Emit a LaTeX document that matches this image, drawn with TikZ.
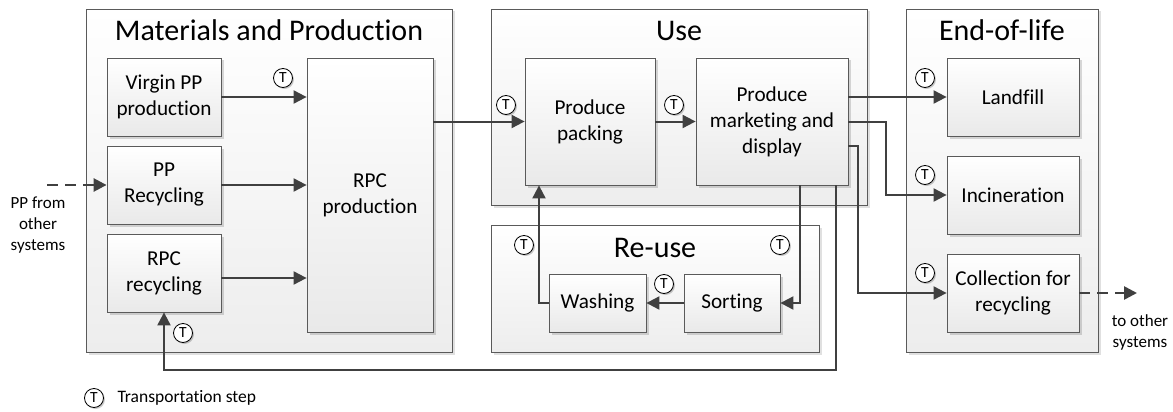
\documentclass[tikz,border=0pt]{standalone}
\usepackage{fontspec}
\setmainfont{Carlito}[Ligatures=NoCommon]
\usetikzlibrary{arrows.meta,shadows,calc}
\definecolor{linec}{HTML}{404040}
\definecolor{borderc}{HTML}{5A5A5A}
\definecolor{boxbot}{HTML}{E9E9E9}
\definecolor{grpbot}{HTML}{EDEDED}
\tikzset{
  grp/.style={draw=borderc, line width=0.8pt, top color=white, bottom color=grpbot,
    drop shadow={shadow xshift=2.5pt, shadow yshift=-2.5pt, fill=black, opacity=0.12},
    inner sep=0pt},
  box/.style={draw=borderc, line width=0.8pt, top color=white, bottom color=boxbot,
    drop shadow={shadow xshift=2.5pt, shadow yshift=-2.5pt, fill=black, opacity=0.15},
    align=center, inner sep=2pt, font=\fontsize{21.2}{26}\selectfont},
  grptitle/.style={anchor=base, font=\fontsize{30}{34}\selectfont},
  tmark/.style={circle, draw=black, line width=0.8pt, fill=white, minimum size=19pt, inner sep=0pt,
    drop shadow={shadow xshift=1.5pt, shadow yshift=-1.5pt, fill=black, opacity=0.2},
    font=\fontsize{15.5}{15.5}\selectfont},
  flow/.style={draw=linec, line width=2pt, -{Triangle[length=13pt,width=13pt]}},
  dflow/.style={flow, line width=2.6pt, dash pattern=on 11pt off 7pt},
  small/.style={align=center, font=\fontsize{17}{21}\selectfont}
}
\begin{document}
\begin{tikzpicture}[x=1pt,y=-1pt]
\useasboundingbox[fill=white] (0,0) rectangle (1173,412);
% groups
\node[grp, minimum width=366pt, minimum height=343pt] (gmat) at (269,180.5) {};
\node[grp, minimum width=376pt, minimum height=196pt] (guse) at (679,107) {};
\node[grp, minimum width=328pt, minimum height=127pt] (greu) at (655,288.5) {};
\node[grp, minimum width=192pt, minimum height=343pt] (geol) at (1002,180.5) {};
\node[grptitle] (tmat) at (269,41) {Materials and Production};
\node[grptitle] (tuse) at (679,41) {Use};
\node[grptitle] (treu) at (655,257) {Re-use};
\node[grptitle] (teol) at (1002,41) {End-of-life};
% boxes
\node[box, minimum width=114pt, minimum height=78pt] (vpp) at (164,97) {Virgin PP\\production};
\node[box, minimum width=114pt, minimum height=78pt] (ppr) at (164,185) {PP\\Recycling};
\node[box, minimum width=114pt, minimum height=78pt] (rpcr) at (164,273) {RPC\\recycling};
\node[box, minimum width=126pt, minimum height=274pt] (rpcp) at (370,195) {RPC\\production};
\node[box, minimum width=130pt, minimum height=127pt] (pack) at (590,121.5) {Produce\\packing};
\node[box, minimum width=152pt, minimum height=127pt] (mkt) at (772,121.5) {Produce\\marketing and\\display};
\node[box, minimum width=97pt, minimum height=58pt] (wash) at (597.5,303) {Washing};
\node[box, minimum width=96pt, minimum height=58pt] (sort) at (732,303) {Sorting};
\node[box, minimum width=132pt, minimum height=78pt] (land) at (1013,97) {Landfill};
\node[box, minimum width=132pt, minimum height=78pt] (inc) at (1013,195) {Incineration};
\node[box, minimum width=132pt, minimum height=78pt] (coll) at (1013,293) {Collection for\\recycling};
% free ends
\coordinate (src) at (47,185);
\coordinate (dst) at (1137,293);
\node[small] (srctxt) at (38,225) {PP from\\other\\systems};
\node[small] (dsttxt) at (1140,332) {to other\\systems};
% connectors
\draw[dflow] (src) -- (ppr.west);
\draw[flow] (vpp.east) -- (vpp.east -| rpcp.west);
\draw[flow] (ppr.east) -- (ppr.east -| rpcp.west);
\draw[flow] ([yshift=-5pt]rpcr.east) -- ([yshift=-5pt]rpcr.east -| rpcp.west);
\draw[flow] (rpcp.east |- pack.west) -- (pack.west);
\draw[flow] (pack.east) -- (mkt.west);
\draw[flow] (mkt.east |- land.west) -- (land.west);
\draw[flow] (mkt.east) -- (886,121.5) |- (inc.west);
\draw[flow] (mkt.east |- 0,146) -- (858,146) |- (coll.west);
\draw[dflow] (coll.east) -- (dst);
\draw[flow] ([xshift=28pt]mkt.south) |- (sort.east);
\draw[flow] (sort.west) -- (wash.east);
\draw[flow] (wash.west) -| ([xshift=-51pt]pack.south);
\draw[flow] ([xshift=64pt]mkt.south) -- (836,370) -| (rpcr.south);
% transport markers
\node[tmark] (t1) at (283,78) {T};
\node[tmark] (t2) at (183,333) {T};
\node[tmark] (t3) at (506,105) {T};
\node[tmark] (t4) at (674,105) {T};
\node[tmark] (t5) at (524,245) {T};
\node[tmark] (t6) at (780,245) {T};
\node[tmark] (t7) at (664,284) {T};
\node[tmark] (t8) at (925,78) {T};
\node[tmark] (t9) at (925,175) {T};
\node[tmark] (t10) at (925,273) {T};
\node[tmark] (tleg) at (94,398) {T};
\node[anchor=west, font=\fontsize{17.5}{20}\selectfont] (legtxt) at (114,398) {Transportation step};
\end{tikzpicture}
\end{document}
